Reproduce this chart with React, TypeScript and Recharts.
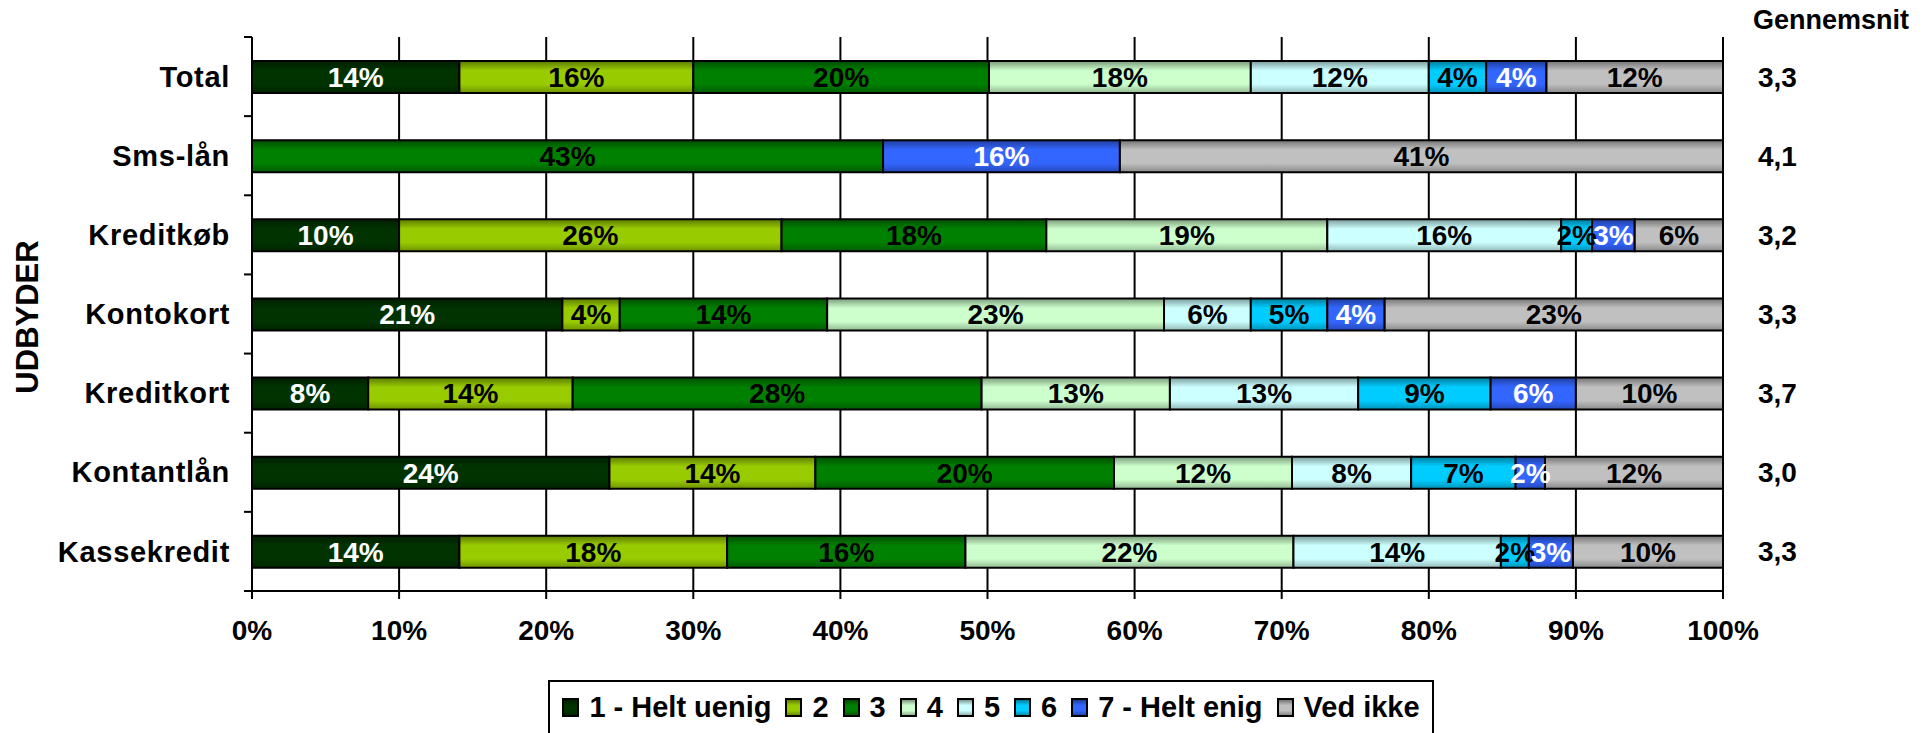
import React from 'react';
import { BarChart, Bar, XAxis, YAxis, CartesianGrid, LabelList, Legend, Label } from 'recharts';

// Udbyder-spørgsmål, fordeling af svar (pct.) pr. udbyder

const providers = ['Total', 'Sms-lån', 'Kreditkøb', 'Kontokort', 'Kreditkort', 'Kontantlån', 'Kassekredit'];
const averages = ['3,3', '4,1', '3,2', '3,3', '3,7', '3,0', '3,3'];

const seriesNames = ['1 - Helt uenig', '2', '3', '4', '5', '6', '7 - Helt enig', 'Ved ikke'];
const seriesColors = ['#003300', '#99CC00', '#008000', '#CCFFCC', '#CCFFFF', '#00CCFF', '#3366FF', '#C0C0C0'];
const labelColors = ['#fff', '#000', '#000', '#000', '#000', '#000', '#fff', '#000'];

const heltUenig = [14.1, 0, 10.0, 21.1, 7.9, 24.3, 14.1];
const score2 = [15.9, 0, 26.0, 3.9, 13.9, 14.0, 18.2];
const score3 = [20.1, 42.9, 18.0, 14.1, 27.8, 20.3, 16.2];
const score4 = [17.8, 0, 19.1, 22.9, 12.8, 12.1, 22.3];
const score5 = [12.1, 0, 15.9, 5.9, 12.8, 8.1, 14.1];
const score6 = [3.9, 0, 2.1, 5.2, 9.0, 7.1, 1.9];
const heltEnig = [4.1, 16.1, 2.9, 3.9, 5.8, 2.0, 3.0];
const vedIkke = [12.0, 41.0, 6.0, 23.0, 10.0, 12.1, 10.2];

const xTicks = [0, 10, 20, 30, 40, 50, 60, 70, 80, 90, 100];

const seriesValues = [heltUenig, score2, score3, score4, score5, score6, heltEnig, vedIkke];

const data = providers.map((name, i) => {
  const row: any = { name };
  seriesValues.forEach((vals, s) => {
    row['s' + s] = vals[i];
  });
  return row;
});

const FONT = '"Liberation Sans", Arial, sans-serif';
const PLOT_H = 554;
const band = PLOT_H / providers.length;

const shade = (hex: string, f: number) => {
  const n = parseInt(hex.slice(1), 16);
  const r = Math.round(((n >> 16) & 255) * f);
  const g = Math.round(((n >> 8) & 255) * f);
  const b = Math.round((n & 255) * f);
  return `rgb(${r},${g},${b})`;
};

const ProviderTick = (props: any) => {
  const { x, y, payload, index } = props;
  return (
    <g>
      <line x1={x + 14} x2={x + 22} y1={y - band / 2} y2={y - band / 2} stroke="#000" strokeWidth={2} />
      {index === providers.length - 1 && (
        <line x1={x + 14} x2={x + 22} y1={y + band / 2} y2={y + band / 2} stroke="#000" strokeWidth={2} />
      )}
      <text
        x={x}
        y={y}
        dy="0.35em"
        textAnchor="end"
        fontSize={29}
        fontWeight="bold"
        fontFamily={FONT}
        letterSpacing={0.7}
        fill="#000"
      >
        {payload.value}
      </text>
    </g>
  );
};

const segmentLabel = (color: string) => (props: any) => {
  const { x, y, width, height, value } = props;
  if (!value) return null;
  return (
    <text
      x={Number(x) + Number(width) / 2}
      y={Number(y) + Number(height) / 2}
      dy="0.35em"
      textAnchor="middle"
      fontSize={28}
      fontWeight="bold"
      fontFamily={FONT}
      fill={color}
    >
      {Math.round(value)}%
    </text>
  );
};

const LegendBox = () => (
  <div
    style={{
      boxSizing: 'border-box',
      width: 886,
      height: 58,
      border: '2px solid #000',
      background: '#fff',
      display: 'flex',
      alignItems: 'center',
      justifyContent: 'center',
      paddingBottom: 4,
      gap: 14,
      fontFamily: FONT,
      fontWeight: 'bold',
      fontSize: 29,
      color: '#000',
      whiteSpace: 'nowrap',
    }}
  >
    {seriesNames.map((n, i) => (
      <div key={n} style={{ display: 'flex', alignItems: 'center', gap: 10 }}>
        <span
          style={{
            display: 'inline-block',
            width: 13,
            height: 15,
            border: '2px solid #000',
            background: `linear-gradient(to bottom, ${shade(seriesColors[i], 0.6)}, ${seriesColors[i]} 35%, ${seriesColors[i]} 70%, ${shade(seriesColors[i], 0.7)})`,
          }}
        />
        <span>{n}</span>
      </div>
    ))}
  </div>
);

const App = () => {
  return (
    <div style={{ position: 'absolute', left: 0, top: 0, width: 1926, height: 733, overflow: 'hidden', background: '#fff' }}>
      <BarChart
        width={1926}
        height={733}
        data={data}
        layout="vertical"
        margin={{ top: 37, right: 0, bottom: 0, left: 0 }}
        barSize={32}
      >
        <defs>
          {seriesColors.map((c, i) => (
            <linearGradient id={`seg${i}`} key={c} x1="0" y1="0" x2="0" y2="1">
              <stop offset="0" stopColor={shade(c, 0.6)} />
              <stop offset="0.3" stopColor={c} />
              <stop offset="0.72" stopColor={c} />
              <stop offset="1" stopColor={shade(c, 0.72)} />
            </linearGradient>
          ))}
        </defs>
        <CartesianGrid horizontal={false} vertical={true} stroke="#000" strokeWidth={2} />
        <XAxis
          type="number"
          domain={[0, 100]}
          allowDataOverflow
          ticks={xTicks}
          interval={0}
          tickFormatter={(v: number) => `${v}%`}
          height={142}
          axisLine={{ stroke: '#000', strokeWidth: 2 }}
          tickLine={{ stroke: '#000', strokeWidth: 2 }}
          tickSize={8}
          tickMargin={21}
          tick={{ fontSize: 28, fontWeight: 'bold', fill: '#000', fontFamily: FONT }}
        />
        <YAxis
          type="category"
          dataKey="name"
          width={252}
          axisLine={{ stroke: '#000', strokeWidth: 2 }}
          tickLine={false}
          tickSize={8}
          tickMargin={14}
          interval={0}
          tick={<ProviderTick />}
        >
          <Label
            content={(p: any) => {
              const vb = p.viewBox || { x: 0, y: 37, width: 252, height: PLOT_H };
              const cx = 27;
              const cy = vb.y + vb.height / 2 + 3;
              return (
                <text
                  x={cx}
                  y={cy}
                  dy="0.35em"
                  textAnchor="middle"
                  transform={`rotate(-90, ${cx}, ${cy})`}
                  fontSize={31}
                  fontWeight="bold"
                  fontFamily={FONT}
                  fill="#000"
                >
                  UDBYDER
                </text>
              );
            }}
          />
        </YAxis>
        <YAxis
          yAxisId="avg"
          orientation="right"
          type="category"
          dataKey="name"
          width={203}
          axisLine={false}
          tickLine={false}
          tickSize={0}
          tickMargin={35}
          interval={0}
          tickFormatter={(_v: string, i: number) => averages[i]}
          tick={{ fontSize: 28, fontWeight: 'bold', fill: '#000', fontFamily: FONT, textAnchor: 'start' }}
        />
        {seriesNames.map((n, i) => (
          <Bar
            key={n}
            dataKey={'s' + i}
            name={n}
            stackId="svar"
            fill={`url(#seg${i})`}
            stroke="#000"
            strokeWidth={2}
            isAnimationActive={false}
          >
            <LabelList dataKey={'s' + i} content={segmentLabel(labelColors[i])} />
          </Bar>
        ))}
        <Legend
          layout="horizontal"
          verticalAlign="middle"
          align="center"
          wrapperStyle={{ left: 548, top: 680, width: 886, height: 58 }}
          content={() => <LegendBox />}
        />
      </BarChart>
      <div
        style={{
          position: 'absolute',
          left: 1753,
          top: 7,
          fontFamily: FONT,
          fontWeight: 'bold',
          fontSize: 27,
          lineHeight: '27px',
          color: '#000',
          whiteSpace: 'nowrap',
        }}
      >
        Gennemsnit
      </div>
    </div>
  );
};

export default App;
